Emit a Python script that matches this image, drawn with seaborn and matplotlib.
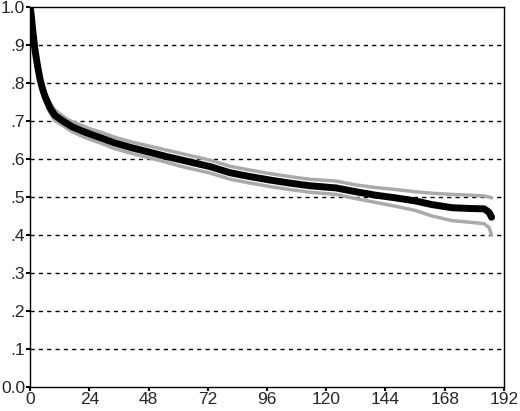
import numpy as np
import pandas as pd
import matplotlib
matplotlib.use("Agg")
import matplotlib.pyplot as plt
import seaborn as sns

months = [0, 0.5, 1, 2, 3, 4, 5, 6, 8, 10, 14, 17, 21, 25, 29, 34, 41, 49, 55, 61,
          67, 73, 81, 89, 97, 105, 113, 124, 132, 140, 148, 156, 163, 171, 178, 184, 186, 187]
survival = [1.0, 0.975, 0.94, 0.885, 0.845, 0.81, 0.785, 0.765, 0.735, 0.715, 0.697, 0.685,
            0.674, 0.664, 0.655, 0.643, 0.63, 0.617, 0.607, 0.598, 0.589, 0.58, 0.564, 0.554,
            0.545, 0.537, 0.53, 0.524, 0.514, 0.505, 0.498, 0.49, 0.48, 0.472, 0.47, 0.469, 0.46, 0.447]
upper = [1.0, 0.98, 0.945, 0.89, 0.85, 0.816, 0.792, 0.773, 0.748, 0.729, 0.709, 0.698,
         0.688, 0.678, 0.67, 0.658, 0.645, 0.633, 0.624, 0.615, 0.606, 0.597, 0.581, 0.571,
         0.562, 0.554, 0.547, 0.542, 0.532, 0.525, 0.52, 0.514, 0.51, 0.507, 0.505, 0.503, 0.5, 0.498]
lower = [1.0, 0.97, 0.935, 0.88, 0.84, 0.804, 0.778, 0.757, 0.722, 0.701, 0.685, 0.672,
         0.66, 0.65, 0.641, 0.628, 0.615, 0.602, 0.592, 0.581, 0.572, 0.563, 0.547, 0.537,
         0.528, 0.52, 0.513, 0.507, 0.496, 0.486, 0.476, 0.465, 0.45, 0.438, 0.434, 0.43, 0.42, 0.4]

x_ticks = [0, 24, 48, 72, 96, 120, 144, 168, 192]
y_ticks = [0.0, 0.1, 0.2, 0.3, 0.4, 0.5, 0.6, 0.7, 0.8, 0.9, 1.0]
y_labels = ["0.0", ".1", ".2", ".3", ".4", ".5", ".6", ".7", ".8", ".9", "1.0"]

df = pd.DataFrame({"month": months, "surv": survival, "upper": upper, "lower": lower})

sns.set_style("white")
plt.rcParams['font.family'] = ['Liberation Sans', 'DejaVu Sans']

fig = plt.figure(figsize=(5.2, 4.11), dpi=100)
ax = fig.add_axes([0.058, 0.058, 0.911, 0.925])

# dashed reference lines at each tenth
for y in y_ticks[1:-1]:
    ax.axhline(y, color="black", lw=1, ls=(0, (3, 3)), zorder=1)

sns.lineplot(data=df, x="month", y="upper", ax=ax, color="#aaaaaa", lw=2.5, estimator=None, sort=False)
sns.lineplot(data=df, x="month", y="lower", ax=ax, color="#aaaaaa", lw=2.5, estimator=None, sort=False)
sns.lineplot(data=df, x="month", y="surv", ax=ax, color="black", lw=5, estimator=None, sort=False)

ax.set_xlim(0, 192)
ax.set_ylim(0, 1)
ax.set_xticks(x_ticks)
ax.set_yticks(y_ticks)
ax.set_yticklabels(y_labels)
ax.set_xlabel("")
ax.set_ylabel("")
ax.tick_params(axis="both", labelsize=12.5, length=3, width=1.5, color="black",
               direction="out", bottom=True, left=True, pad=0.5)
for s in ax.spines.values():
    s.set_visible(True)
    s.set_color("black")
    s.set_linewidth(1)

fig.savefig("out.png", dpi=100)
